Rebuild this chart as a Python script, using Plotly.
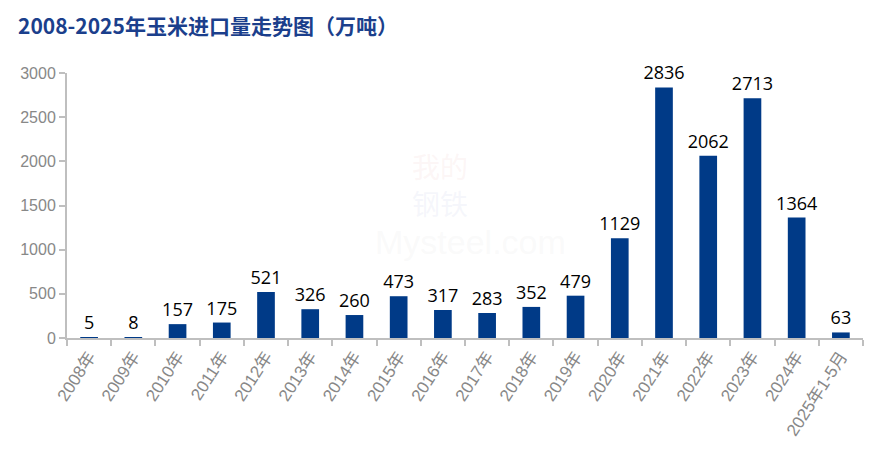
import plotly.graph_objects as go

categories = ["2008年", "2009年", "2010年", "2011年", "2012年", "2013年", "2014年",
              "2015年", "2016年", "2017年", "2018年", "2019年", "2020年", "2021年",
              "2022年", "2023年", "2024年", "2025年1-5月"]
imports = [5, 8, 157, 175, 521, 326, 260, 473, 317, 283, 352, 479, 1129, 2836,
           2062, 2713, 1364, 63]
y_ticks = [0, 500, 1000, 1500, 2000, 2500, 3000]
title_text = "2008-2025年玉米进口量走势图（万吨）"

L, R, T, B = 67, 24, 73, 127
W, H = 887, 465
PW, PH = W - L - R, H - T - B


def px_x(x):
    return (x - L) / PW


def px_y(y):
    return (H - B - y) / PH


fig = go.Figure()
fig.add_trace(go.Bar(
    x=categories, y=imports,
    marker=dict(color="#003a87", line=dict(width=0)),
    text=[str(v) for v in imports],
    textposition="outside",
    constraintext="none",
    textfont=dict(family="Open Sans, Liberation Sans, sans-serif", size=18, color="#000000"),
    cliponaxis=False,
    width=0.4,
))

axis_gray = "#bfbfbf"
label_gray = "#888888"

fig.update_layout(
    width=W, height=H,
    margin=dict(l=L, r=R, t=T, b=B, autoexpand=False),
    paper_bgcolor="white", plot_bgcolor="white",
    showlegend=False,
    font=dict(family="Liberation Sans, Noto Sans CJK SC, sans-serif"),
    annotations=[
        dict(text="<b>" + title_text + "</b>", xref="paper", yref="paper",
             x=px_x(16), y=px_y(25), showarrow=False,
             font=dict(family="Noto Sans CJK SC, sans-serif", size=21, color="#1b3f8c"),
             xanchor="left", yanchor="middle"),
        dict(text="我的", xref="paper", yref="paper", x=px_x(440),
             y=px_y(166), showarrow=False,
             font=dict(family="Noto Sans CJK SC, sans-serif", size=28, color="rgba(240,200,200,0.18)")),
        dict(text="钢铁", xref="paper", yref="paper", x=px_x(440),
             y=px_y(203), showarrow=False,
             font=dict(family="Noto Sans CJK SC, sans-serif", size=28, color="rgba(205,212,235,0.2)")),
        dict(text="Mysteel.com", xref="paper", yref="paper", x=px_x(470),
             y=px_y(242), showarrow=False,
             font=dict(family="Liberation Sans, sans-serif", size=34, color="rgba(215,215,215,0.15)")),
    ],
)

fig.update_xaxes(
    type="category", automargin=False,
    showline=True, linecolor=axis_gray, linewidth=2,
    ticks="outside", tickson="boundaries", ticklen=6, tickcolor=axis_gray, tickwidth=2,
    tickangle=-57,
    tickfont=dict(family="Liberation Sans, Noto Sans CJK SC, sans-serif", size=17, color=label_gray),
    showgrid=False,
)
fig.update_yaxes(
    range=[0, 3000], tickvals=y_ticks, automargin=False,
    showline=True, linecolor=axis_gray, linewidth=2,
    ticks="outside", ticklen=6, tickcolor=axis_gray, tickwidth=2,
    tickfont=dict(family="Liberation Sans, sans-serif", size=16, color=label_gray),
    showgrid=False, zeroline=False,
)

fig.write_html("out.html", config={"displayModeBar": False},
               post_script="document.body.style.margin='0';document.body.style.padding='0';")
